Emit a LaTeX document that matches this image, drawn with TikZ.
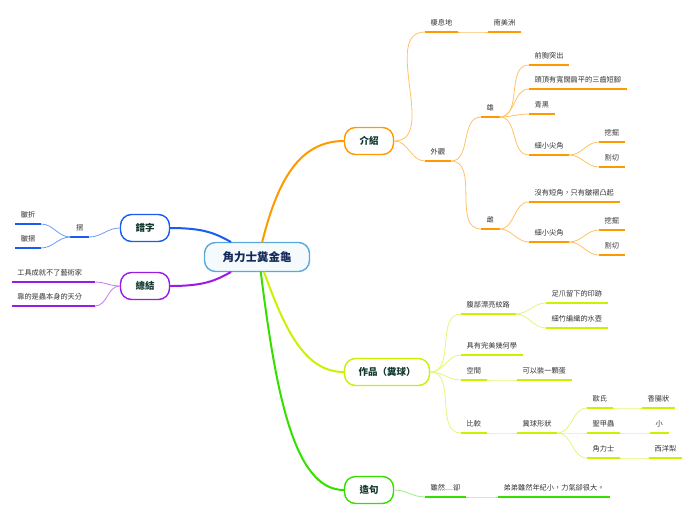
\documentclass[tikz,border=0pt]{standalone}
\usepackage{fontspec}
\setmainfont{Noto Sans CJK TC}
\usetikzlibrary{positioning}

\definecolor{ctrline}{HTML}{5AA8DC}
\definecolor{ctrtext}{HTML}{14285A}
\definecolor{hubtext}{HTML}{10382F}
\definecolor{leaftext}{HTML}{333333}
\definecolor{orgline}{HTML}{FF9900}
\definecolor{orglink}{HTML}{FFC266}
\definecolor{ylwline}{HTML}{CCF000}
\definecolor{ylwlink}{HTML}{E2F77A}
\definecolor{grnline}{HTML}{33E000}
\definecolor{grnlink}{HTML}{99EE88}
\definecolor{bluline}{HTML}{1A5CF0}
\definecolor{blulink}{HTML}{6F9CF5}
\definecolor{prpline}{HTML}{9A1AE6}
\definecolor{prplink}{HTML}{C27AF0}

\tikzset{
  hub/.style={draw=#1, line width=1.4pt, rounded corners=11pt, fill=white,
              minimum width=49pt, minimum height=27pt, text=hubtext,
              font=\bfseries\fontsize{9.5}{11}\selectfont},
  leaf/.style={inner xsep=5.5pt, inner ysep=1pt, text height=6pt, text depth=5.5pt,
               text=leaftext, font=\fontsize{7.2}{8}\selectfont,
               append after command={(\tikzlastnode.south west)
                 edge[draw=#1, line width=2.2pt] (\tikzlastnode.south east)}},
  link/.style={draw=#1, line width=0.8pt},
  trunk/.style={draw=#1, line width=2pt, line cap=round},
}

\begin{document}
\begin{tikzpicture}[x=1pt, y=-1pt]
  \useasboundingbox (0,0) rectangle (696,520);

  % Main topics
  \node[hub=ctrline, fill=ctrline!6, minimum width=105pt, minimum height=29pt,
        text=ctrtext, font=\bfseries\fontsize{11.5}{13}\selectfont] (ctr) at (257,257) {角力士糞金龜};
  \node[hub=orgline] (intro) at (369,141) {介紹};
  \node[hub=ylwline, minimum width=85pt] (work) at (387,372) {作品（糞球）};
  \node[hub=grnline] (sent) at (369,490) {造句};
  \node[hub=bluline] (typo) at (145,228) {錯字};
  \node[hub=prpline] (sum) at (145,286) {總結};

  % Trunks from the centre
  \draw[trunk=orgline] (ctr.71) .. controls +(15,-60) and +(-45,0) .. (intro.west);
  \draw[trunk=ylwline] (ctr.-65) .. controls +(20,55) and +(-40,0) .. (work.west);
  \draw[trunk=grnline] (ctr.-76) .. controls +(15,120) and +(-50,0) .. (sent.west);
  \draw[trunk=bluline] (typo.east) .. controls +(35,0) and +(-15,-8) .. (ctr.150);
  \draw[trunk=prpline] (sum.east) .. controls +(35,0) and +(-15,8) .. (ctr.210);

  % Branch: 介紹
  \node[leaf=orgline, anchor=south west] (habitat) at (425,32) {棲息地};
  \node[leaf=orgline, anchor=south west] (samerica) at (488,32) {南美洲};
  \node[leaf=orgline, anchor=south west] (look) at (425,161) {外觀};
  \node[leaf=orgline, anchor=south west] (male) at (481,117) {雄};
  \node[leaf=orgline, anchor=south west] (female) at (481,229) {雌};
  \node[leaf=orgline, anchor=south west] (chest) at (529,65) {前胸突出};
  \node[leaf=orgline, anchor=south west] (head) at (529,89) {頭頂有寬闊扁平的三齒短腳};
  \node[leaf=orgline, anchor=south west] (black) at (529,114) {青黑};
  \node[leaf=orgline, anchor=south west] (mhorn) at (529,155) {細小尖角};
  \node[leaf=orgline, anchor=south west] (mdig) at (599,142) {挖掘};
  \node[leaf=orgline, anchor=south west] (mcut) at (599,167) {割切};
  \node[leaf=orgline, anchor=south west] (fold) at (529,202) {沒有短角，只有皺褶凸起};
  \node[leaf=orgline, anchor=south west] (fhorn) at (529,242) {細小尖角};
  \node[leaf=orgline, anchor=south west] (fdig) at (599,230) {挖掘};
  \node[leaf=orgline, anchor=south west] (fcut) at (599,255) {割切};

  \foreach \a/\b in {intro.east/habitat, intro.east/look, habitat.south east/samerica,
                     look.south east/male, look.south east/female,
                     male.south east/chest, male.south east/head, male.south east/black,
                     male.south east/mhorn, mhorn.south east/mdig, mhorn.south east/mcut,
                     female.south east/fold, female.south east/fhorn,
                     fhorn.south east/fdig, fhorn.south east/fcut}
    \draw[link=orglink] (\a) to[out=0, in=180] (\b.south west);

  % Branch: 作品（糞球）
  \node[leaf=ylwline, anchor=south west] (belly) at (461,314) {腹部漂亮紋路};
  \node[leaf=ylwline, anchor=south west] (claw) at (546,303) {足爪留下的印跡};
  \node[leaf=ylwline, anchor=south west] (pot) at (546,328) {細竹編織的水壺};
  \node[leaf=ylwline, anchor=south west] (geom) at (461,355) {具有完美幾何學};
  \node[leaf=ylwline, anchor=south west] (space) at (461,380) {空間};
  \node[leaf=ylwline, anchor=south west] (egg) at (517,380) {可以裝一顆蛋};
  \node[leaf=ylwline, anchor=south west] (comp) at (461,433) {比較};
  \node[leaf=ylwline, anchor=south west] (shape) at (517,433) {糞球形狀};
  \node[leaf=ylwline, anchor=south west] (ou) at (587,408) {歐氏};
  \node[leaf=ylwline, anchor=south west] (sausage) at (642,408) {香腸狀};
  \node[leaf=ylwline, anchor=south west] (scarab) at (587,433) {聖甲蟲};
  \node[leaf=ylwline, anchor=south west] (small) at (650,433) {小};
  \node[leaf=ylwline, anchor=south west] (wrestler) at (587,458) {角力士};
  \node[leaf=ylwline, anchor=south west] (pear) at (649,458) {西洋梨};

  \foreach \a/\b in {work.east/belly, work.east/geom, work.east/space, work.east/comp,
                     belly.south east/claw, belly.south east/pot,
                     space.south east/egg, comp.south east/shape,
                     shape.south east/ou, shape.south east/scarab, shape.south east/wrestler,
                     ou.south east/sausage, scarab.south east/small, wrestler.south east/pear}
    \draw[link=ylwlink] (\a) to[out=0, in=180] (\b.south west);

  % Branch: 造句
  \node[leaf=grnline, anchor=south west] (though) at (425,497) {雖然....卻};
  \node[leaf=grnline, anchor=south west] (example) at (498,497) {弟弟雖然年紀小，力氣卻很大。};
  \draw[link=grnlink] (sent.east) to[out=0, in=180] (though.south west);
  \draw[link=grnlink] (though.south east) to[out=0, in=180] (example.south west);

  % Branch: 錯字
  \node[leaf=bluline, anchor=south east] (zhe) at (89,237) {摺};
  \node[leaf=bluline, anchor=south east] (crease1) at (41,224) {皺折};
  \node[leaf=bluline, anchor=south east] (crease2) at (41,248) {皺摺};
  \draw[link=blulink] (typo.west) to[out=180, in=0] (zhe.south east);
  \draw[link=blulink] (zhe.south west) to[out=180, in=0] (crease1.south east);
  \draw[link=blulink] (zhe.south west) to[out=180, in=0] (crease2.south east);

  % Branch: 總結
  \node[leaf=prpline, anchor=south east, text width=72pt] (tool) at (95,282) {工具成就不了藝術家};
  \node[leaf=prpline, anchor=south east, text width=72pt] (talent) at (95,306) {靠的是蟲本身的天分};
  \draw[link=prplink] (sum.west) to[out=180, in=0] (tool.south east);
  \draw[link=prplink] (sum.west) to[out=180, in=0] (talent.south east);

\end{tikzpicture}
\end{document}
